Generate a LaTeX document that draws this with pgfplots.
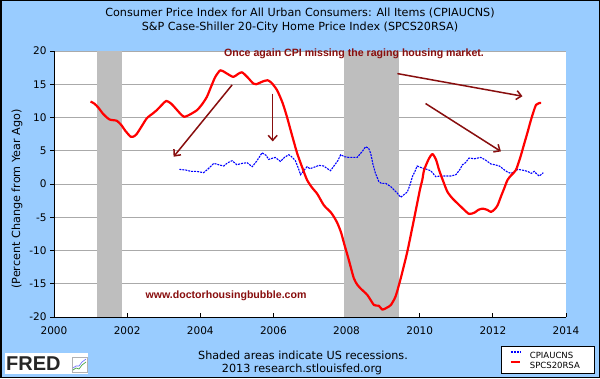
\documentclass[border=0pt]{standalone}
\usepackage{pgfplots}
\pgfplotsset{compat=1.18}
\usepackage{fontspec}
\setmainfont{DejaVu Sans}
\newfontfamily\arialfont{Liberation Sans}
\usetikzlibrary{arrows.meta}
\definecolor{fredbg}{RGB}{153,204,255}
\definecolor{recess}{RGB}{190,190,190}
\definecolor{gridc}{RGB}{170,170,170}
\definecolor{annot}{RGB}{136,14,14}
\begin{document}
\begin{tikzpicture}[x=1pt,y=1pt]
\fill[fredbg] (0,0) rectangle (600,378);
\begin{axis}[
  at={(54pt,61pt)}, anchor=south west,
  scale only axis, width=512pt, height=266pt,
  xmin=2000, xmax=2014, ymin=-20, ymax=20,
  xtick={2000,2002,...,2014}, ytick={-20,-15,...,20},
  axis lines*=left,
  axis line style={black, line width=0.9pt},
  axis background/.style={fill=white},
  ymajorgrids, grid style={gridc, line width=0.9pt},
  tick align=outside, major tick length=4pt,
  tick style={black, line width=0.8pt},
  x tick style={yshift=4pt},
  /pgf/number format/assume math mode=true,
  x tick label style={/pgf/number format/1000 sep={}, font=\fontsize{10.5}{12}\selectfont, yshift=-2pt},
  y tick label style={font=\fontsize{10.5}{12}\selectfont},
  ylabel={(Percent Change from Year Ago)},
  ylabel style={at={(axis description cs:-0.0723,0.4436)}, anchor=center, font=\fontsize{11.2}{13}\selectfont},
  legend style={at={(0.8725,-0.1082)}, anchor=north west, draw=black, line width=1pt, fill=white,
    font=\fontsize{8.5}{9}\selectfont, inner xsep=8.5pt, inner ysep=4.2pt, row sep=0.8pt, column sep=7pt,
    nodes={inner sep=1.5pt, text height=6.2pt, text depth=0pt}},
  legend cell align=left,
  legend image code/.code={\draw[#1] (0pt,3.1pt) -- (9.5pt,3.1pt);},
]
\addplot[fill=recess, draw=none, forget plot] coordinates {(2001.17,-20) (2001.17,20) (2001.86,20) (2001.86,-20)} -- cycle;
\addplot[fill=recess, draw=none, forget plot] coordinates {(2007.92,-20) (2007.92,20) (2009.42,20) (2009.42,-20)} -- cycle;

\addplot[blue, line width=1.1pt, dash pattern=on 2pt off 1pt] coordinates {
(2003.43,2.2) (2003.6,2.1) (2003.75,1.9) (2003.9,1.9) (2004.09,1.7) (2004.2,2.2) (2004.37,3.1)
(2004.5,2.9) (2004.64,2.7) (2004.75,3.2) (2004.87,3.5) (2005.0,2.9) (2005.14,3.1) (2005.28,3.2)
(2005.42,2.6) (2005.55,3.5) (2005.69,4.7) (2005.8,4.3) (2005.87,3.7) (2006.05,4.0) (2006.19,3.4)
(2006.3,4.0) (2006.42,4.4) (2006.5,4.1) (2006.6,3.5) (2006.68,2.4) (2006.74,1.4) (2006.83,2.0)
(2006.92,2.6) (2007.0,2.3) (2007.15,2.6) (2007.25,2.8) (2007.38,2.7) (2007.45,2.4) (2007.56,2.0)
(2007.68,2.9) (2007.76,3.5) (2007.84,4.4) (2007.95,4.1) (2008.06,4.0) (2008.2,4.0) (2008.29,4.0)
(2008.43,4.9) (2008.52,5.6) (2008.6,5.4) (2008.66,4.6) (2008.72,3.0) (2008.79,1.6) (2008.88,0.4)
(2008.95,0.1) (2009.07,0.1) (2009.21,-0.4) (2009.3,-0.9) (2009.39,-1.4) (2009.48,-2.0) (2009.57,-1.6)
(2009.66,-1.2) (2009.73,-0.2) (2009.80,1.1) (2009.87,1.9) (2009.93,2.7) (2010.07,2.4) (2010.2,2.2)
(2010.3,2.0) (2010.44,1.1) (2010.55,1.2) (2010.71,1.2) (2010.85,1.2) (2010.99,1.4) (2011.1,2.2)
(2011.17,2.9) (2011.25,3.2) (2011.35,3.9) (2011.5,3.8) (2011.67,4.0) (2011.8,3.6) (2011.95,3.0)
(2012.05,2.9) (2012.18,2.7) (2012.32,2.1) (2012.4,1.8) (2012.49,1.6) (2012.58,1.8) (2012.68,2.2)
(2012.8,2.1) (2012.95,1.9) (2013.05,1.6) (2013.13,1.9) (2013.2,1.5) (2013.27,1.2) (2013.38,1.7)
};
\addlegendentry{CPIAUCNS}

\addplot[red, line width=2.2pt, line join=round, smooth, tension=0.4] coordinates {
(2001.0,12.4) (2001.1,12.1) (2001.21,11.5) (2001.35,10.5) (2001.52,9.7) (2001.72,9.5) (2001.85,8.8)
(2001.95,8.0) (2002.10,7.1) (2002.2,7.2) (2002.26,7.5) (2002.4,8.7) (2002.54,9.9) (2002.7,10.6)
(2002.81,11.1) (2002.95,11.9) (2003.07,12.5) (2003.2,12.1) (2003.32,11.4) (2003.45,10.6) (2003.56,10.1)
(2003.7,10.4) (2003.91,11.1) (2004.05,12.0) (2004.18,13.1) (2004.3,14.7) (2004.41,16.1) (2004.55,17.1)
(2004.7,16.7) (2004.9,16.1) (2005.02,16.5) (2005.14,16.8) (2005.3,16.0) (2005.45,15.1) (2005.53,15.0)
(2005.7,15.4) (2005.84,15.6) (2005.95,15.2) (2006.10,14.1) (2006.25,12.2) (2006.37,10.1) (2006.5,7.5)
(2006.65,4.6) (2006.8,2.3) (2006.92,0.6) (2007.05,-0.5) (2007.2,-1.5) (2007.38,-3.2) (2007.56,-4.2)
(2007.65,-4.9) (2007.75,-5.9) (2007.85,-7.3) (2007.93,-8.9) (2008.06,-11.4) (2008.2,-14.2) (2008.3,-15.2)
(2008.38,-15.7) (2008.57,-16.7) (2008.75,-18.2) (2008.88,-18.3) (2008.98,-18.9) (2009.1,-18.6) (2009.21,-18.2)
(2009.34,-16.9) (2009.48,-14.2) (2009.66,-10.2) (2009.84,-5.4) (2010.0,-1.0) (2010.07,0.6) (2010.12,2.1)
(2010.25,3.8) (2010.35,4.5) (2010.45,3.6) (2010.53,2.1) (2010.65,0.3) (2010.76,-1.2) (2010.9,-2.2)
(2011.03,-2.9) (2011.2,-3.8) (2011.35,-4.5) (2011.5,-4.3) (2011.6,-3.9) (2011.72,-3.7) (2011.85,-3.9)
(2011.95,-4.2) (2012.05,-3.8) (2012.13,-3.2) (2012.22,-1.9) (2012.30,-0.8) (2012.40,0.6) (2012.5,1.3)
(2012.63,2.1) (2012.75,4.0) (2012.86,6.1) (2012.95,7.8) (2013.04,9.6) (2013.18,11.9) (2013.32,12.2)
};
\addlegendentry{SPCS20RSA\hspace*{5pt}}

\draw[annot, line width=1.5pt, -{Straight Barb[length=5pt,width=9pt]}] (axis cs:2004.87,14.9) -- (axis cs:2003.27,4.1);
\draw[annot, line width=1.5pt, -{Straight Barb[length=5pt,width=9pt]}] (axis cs:2005.98,13.6) -- (axis cs:2005.98,6.4);
\draw[annot, line width=1.5pt, -{Straight Barb[length=5pt,width=9pt]}] (axis cs:2009.39,16.6) -- (axis cs:2012.81,13.2);
\draw[annot, line width=1.5pt, -{Straight Barb[length=5pt,width=9pt]}] (axis cs:2010.16,12.1) -- (axis cs:2012.22,4.9);
\end{axis}
\node[annot, font=\arialfont\bfseries\fontsize{10.6}{12}\selectfont] at (354,324.3) {Once again CPI missing the raging housing market.};
\node[annot, font=\arialfont\bfseries\fontsize{10.6}{12}\selectfont] at (226,82.3) {www.doctorhousingbubble.com};
\node[font=\fontsize{11.2}{13}\selectfont] at (300,365.5) {Consumer Price Index for All Urban Consumers: All Items (CPIAUCNS)};
\node[font=\fontsize{11.2}{13}\selectfont] at (300,350.5) {S\&P Case-Shiller 20-City Home Price Index (SPCS20RSA)};
\node[font=\fontsize{11.2}{13}\selectfont] at (303,23) {Shaded areas indicate US recessions.};
\node[font=\fontsize{11.2}{13}\selectfont] at (302,8.5) {2013 research.stlouisfed.org};
% FRED logo
\fill[white] (5,3.7) rectangle (88,24.7);
\node[anchor=west, inner sep=0pt, font=\arialfont\bfseries\fontsize{20}{20}\selectfont, text=black!85] at (6,14.2) {FRED};
\draw[gray!60, line width=0.5pt] (72,6) rectangle (87,21);
\draw[green!50!black!70, line width=0.7pt] (73,8) -- (76,10) -- (79,9) -- (82,13) -- (86,16);
\draw[blue!60, line width=0.6pt] (73,10) -- (76,12) -- (79,12) -- (82,16) -- (86,19);
\draw[black, line width=1.5pt] (0.75,0.75) rectangle (599.25,377.25);
\end{tikzpicture}
\end{document}
